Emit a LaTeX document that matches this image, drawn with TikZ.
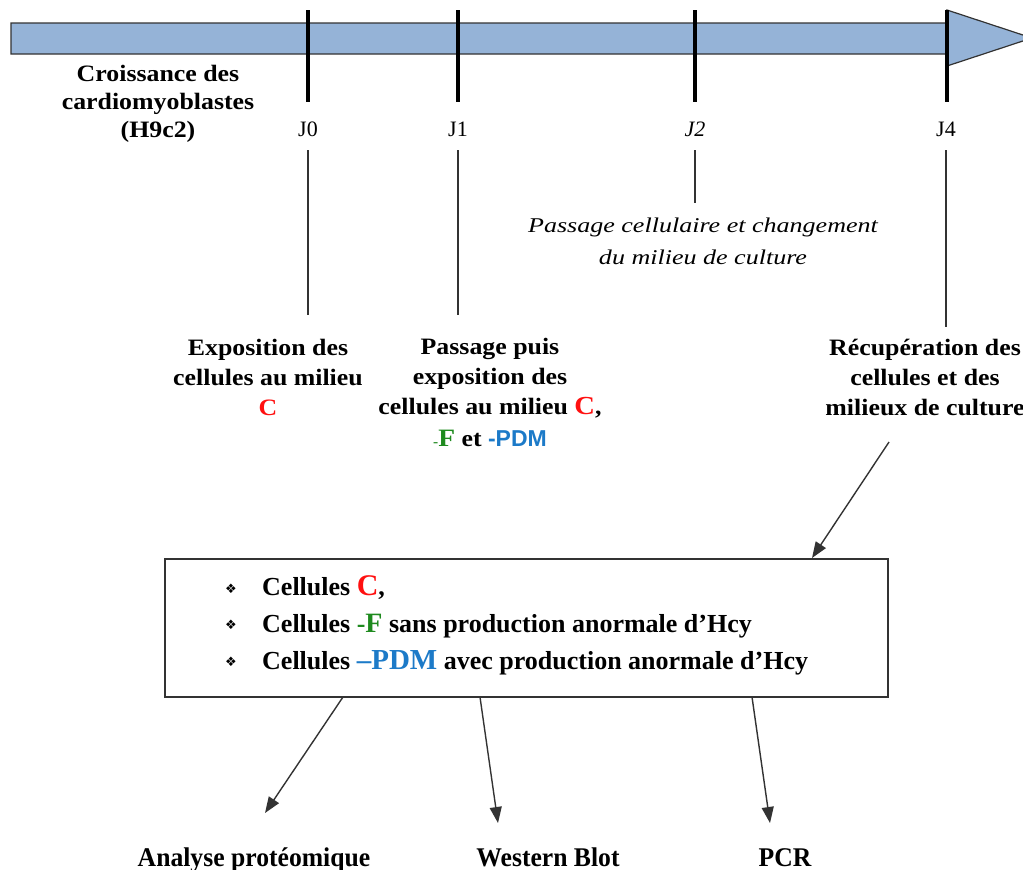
\documentclass[tikz,border=0pt]{standalone}
\usepackage{fontspec}
\setmainfont{Liberation Serif}
\newfontfamily\lblf[FakeStretch=1.1]{Liberation Serif}
\newfontfamily\condf[FakeStretch=1.0]{Liberation Serif}
\newfontfamily\resf[FakeStretch=0.95]{Liberation Serif}
\newfontfamily\widef[FakeStretch=1.24]{Liberation Serif}
\newfontfamily\sansf{Liberation Sans}
\newfontfamily\symf{DejaVu Sans}
\usetikzlibrary{arrows.meta}
\definecolor{barblue}{HTML}{95B3D7}
\definecolor{cred}{HTML}{FF1010}
\definecolor{cgreen}{HTML}{1E8A1E}
\definecolor{cblue}{HTML}{1C7AC8}
\definecolor{lineg}{HTML}{333333}
\begin{document}
\begin{tikzpicture}[x=1pt,y=-1pt,
  lbl/.style={font=\lblf\fontsize{23.5}{30}\selectfont\bfseries, align=center, inner sep=0pt, anchor=north},
  jlbl/.style={font=\fontsize{22}{24}\selectfont, inner sep=0pt, anchor=base},
  itl/.style={font=\widef\fontsize{21}{32}\selectfont\itshape, align=center, inner sep=0pt, anchor=north},
  tickline/.style={line width=3.5pt, black},
  conn/.style={line width=1.3pt, lineg},
  arr/.style={line width=1.4pt, lineg, -{Triangle[length=16pt,width=12pt]}},
  itm/.style={font=\condf\fontsize{26}{36}\selectfont\bfseries, anchor=base west, inner sep=0pt},
  bul/.style={font=\symf\fontsize{13}{14}\selectfont, inner sep=0pt},
  res/.style={font=\resf\fontsize{27}{32}\selectfont\bfseries, anchor=base, inner sep=0pt},
]
\useasboundingbox (0,0) rectangle (1023,870);
\clip (0,0) rectangle (1023,870);

% timeline bar
\draw[fill=barblue, draw=lineg, line width=1.2pt]
  (11,23) -- (947,23) -- (947,10) -- (1032,38) -- (947,66) -- (947,54) -- (11,54) -- cycle;

% ticks
\coordinate (t0a) at (308,10);  \coordinate (t0b) at (308,102);
\coordinate (t1a) at (458,10);  \coordinate (t1b) at (458,102);
\coordinate (t2a) at (695,10);  \coordinate (t2b) at (695,102);
\coordinate (t4a) at (947,10);  \coordinate (t4b) at (947,102);
\draw[tickline] (t0a) -- (t0b);
\draw[tickline] (t1a) -- (t1b);
\draw[tickline] (t2a) -- (t2b);
\draw[tickline] (t4a) -- (t4b);

% labels under ticks
\node[jlbl] (j0) at (308,136) {J0};
\node[jlbl] (j1) at (458,136) {J1};
\node[jlbl] (j2) at (695,136) {\itshape J2};
\node[jlbl] (j4) at (946,136) {J4};

\node[lbl, font=\lblf\fontsize{23.5}{28}\selectfont\bfseries] (croiss) at (158,65)
  {Croissance des\\cardiomyoblastes\\(H9c2)};

\node[lbl] (expo) at (268,339) {Exposition des\\cellules au milieu\\\textcolor{cred}{C}};
\node[lbl] (pass) at (490,338) {Passage puis\\exposition des\\cellules au milieu \textcolor{cred}{\fontsize{26}{30}\selectfont C},\\[2pt]
  \textcolor{cgreen}{\fontsize{14}{30}\selectfont -}\textcolor{cgreen}{\fontsize{25}{30}\selectfont F} et \textcolor{cblue}{\sansf\bfseries\fontsize{23}{30}\selectfont -PDM}};
\node[lbl] (recup) at (925,339) {R\'ecup\'eration des\\cellules et des\\milieux de culture};

\node[itl] (chg) at (703,218) {Passage cellulaire et changement\\du milieu de culture};

% connectors from timeline labels
\coordinate (c0a) at (308,150); \coordinate (c0b) at (308,315);
\coordinate (c1a) at (458,150); \coordinate (c1b) at (458,315);
\coordinate (c2a) at (695,150); \coordinate (c2b) at (695,203);
\coordinate (c4a) at (946,150); \coordinate (c4b) at (946,327);
\draw[conn] (c0a) -- (c0b);
\draw[conn] (c1a) -- (c1b);
\draw[conn] (c2a) -- (c2b);
\draw[conn] (c4a) -- (c4b);

% box
\node[draw=lineg, line width=1.3pt, minimum width=723pt, minimum height=138pt, inner sep=0pt] (box) at (526.5,628) {};
\coordinate (ra) at (889,442);
\coordinate (rb) at (812,558);
\draw[arr] (ra) -- (rb);

\node[bul] (b1) at (231,589) {❖};
\node[bul] (b2) at (231,625) {❖};
\node[bul] (b3) at (231,662) {❖};
\node[itm] (i1) at (262,595) {Cellules \textcolor{cred}{\fontsize{30}{36}\selectfont C},};
\node[itm] (i2) at (262,632) {Cellules \textcolor{cgreen}{-\fontsize{28}{36}\selectfont F} sans production anormale d’Hcy};
\node[itm] (i3) at (262,669) {Cellules \textcolor{cblue}{\fontsize{29}{36}\selectfont –PDM} avec production anormale d’Hcy};

% result arrows
\coordinate (s1) at (343,697); \coordinate (e1) at (265,813);
\coordinate (s2) at (480,697); \coordinate (e2) at (498,823);
\coordinate (s3) at (752,697); \coordinate (e3) at (770,823);
\draw[arr] (s1) -- (e1);
\draw[arr] (s2) -- (e2);
\draw[arr] (s3) -- (e3);

\node[res] (prot) at (254,866) {Analyse prot\'eomique};
\node[res] (wb) at (548,866) {Western Blot};
\node[res] (pcr) at (785,866) {PCR};
\end{tikzpicture}
\end{document}
